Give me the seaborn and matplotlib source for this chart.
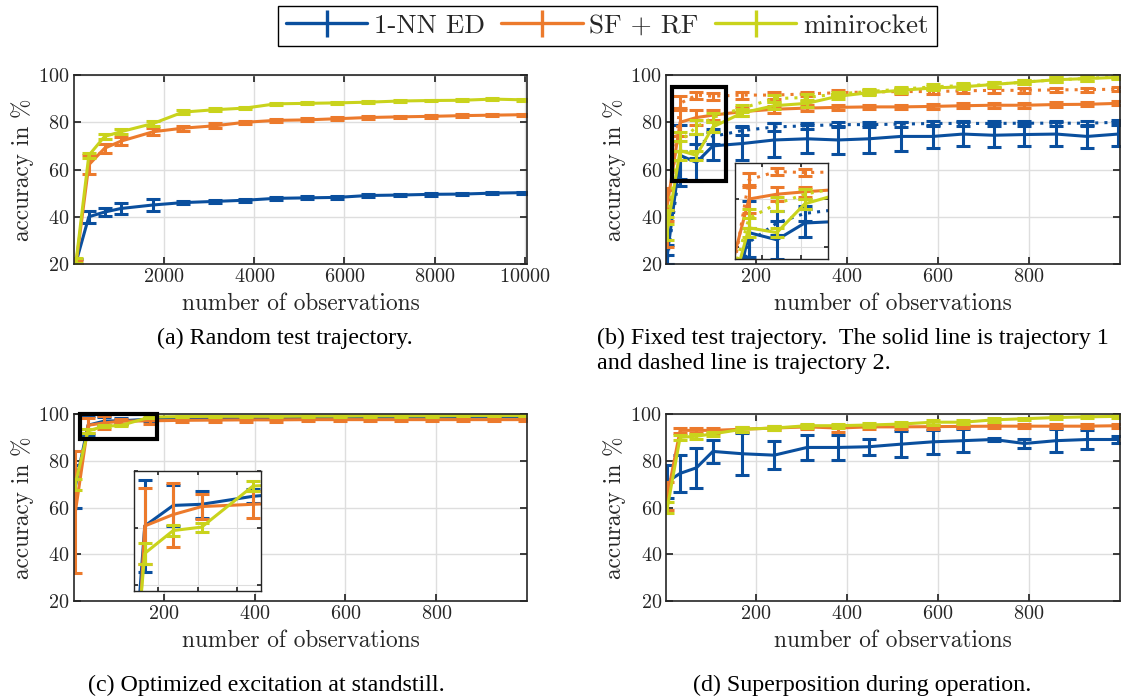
import matplotlib
matplotlib.use("Agg")
import matplotlib.pyplot as plt
import seaborn as sns
from matplotlib.patches import Rectangle

# eje x
obs_a = [50, 330, 680, 1040, 1760, 2420, 3120, 3800, 4480, 5160, 5840, 6520, 7240, 7920, 8600, 9280, 9960]
obs = [5, 33, 69, 105, 170, 240, 312, 380, 448, 518, 588, 655, 722, 790, 860, 928, 996]

metodos = ['1-NN ED', 'SF + RF', 'minirocket']
colores = ['#0a4f9e', '#ec7a2c', '#c9d31c']

# (a) trayectoria aleatoria
a_ed = [21, 40, 42, 43.5, 45, 46, 46.5, 47, 47.8, 48, 48.2, 49, 49.2, 49.5, 49.6, 50, 50.2]
a_ed_err = [1, 2.5, 1.5, 2.5, 2.5, 0.8, 0.8, 0.6, 0.6, 0.6, 0.7, 0.6, 0.5, 0.5, 0.4, 0.4, 0.4]
a_sf = [20.5, 62, 69, 72, 76, 77.5, 78.5, 80, 80.8, 81, 81.5, 82, 82.3, 82.5, 82.8, 83, 83.2]
a_sf_err = [1, 4, 2, 1.8, 1.5, 1, 1, 0.6, 0.6, 0.6, 0.6, 0.5, 0.5, 0.5, 0.5, 0.4, 0.4]
a_mr = [21.5, 66, 74, 76, 79.5, 84.3, 85.3, 86, 87.8, 88, 88.2, 88.5, 89, 89.2, 89.3, 89.8, 89.5]
a_mr_err = [1, 1, 1, 1, 1, 0.8, 0.6, 0.6, 0.5, 0.4, 0.4, 0.4, 0.4, 0.4, 0.4, 0.5, 0.5]

# (b) trayectoria fija: 1 = solida, 2 = punteada
b_ed1 = [24, 66, 63, 70, 71, 72.5, 73, 72.5, 73, 74, 74, 75, 74.5, 74.8, 75, 74, 75]
b_ed1_err = [4, 13, 8, 6, 7, 7, 6, 6, 6, 6, 5, 5, 5, 5, 5, 5, 5]
b_ed2 = [22, 62, 70, 74, 76.5, 78, 78.5, 79, 79, 79.2, 79.5, 79.5, 79.5, 79.6, 79.6, 79.6, 80]
b_ed2_err = [2, 6, 5, 3, 2, 1.5, 1.2, 1, 1, 1, 1, 1, 1, 1, 1, 1, 1]
b_sf1 = [45, 80, 82, 83, 84.5, 85.5, 86, 86.3, 86.5, 86.5, 86.7, 87, 87.2, 87.2, 87.5, 87.6, 88]
b_sf1_err = [7, 6, 3, 2, 2, 1.5, 1.2, 1, 1, 1, 1, 1, 1, 1, 1, 0.8, 0.8]
b_sf2 = [35, 88, 91.5, 91, 91.5, 91.5, 92, 92.5, 92.8, 93, 93, 93.3, 93.5, 93.5, 93.7, 93.8, 94]
b_sf2_err = [8, 3, 1.5, 1.5, 1.5, 1.5, 1, 1, 1, 1, 1, 1, 1, 1, 1, 0.8, 0.8]
b_mr1 = [35, 68, 66, 78, 84, 87, 88, 91, 92.5, 93.5, 94.5, 95, 96, 97, 98, 98.5, 99]
b_mr1_err = [5, 4, 2, 2, 1.5, 1.5, 1.5, 1, 1, 1, 1, 1, 1, 1, 1, 1, 0.8]
b_mr2 = [40, 72, 78, 82, 86, 90, 90.5, 92, 93, 94, 95, 95.5, 96, 97, 98, 98.5, 99.5]
b_mr2_err = [3, 4, 3, 2, 1.5, 1.5, 1.5, 1, 1, 1, 1, 1, 1, 1, 1, 1, 0.8]

# (c) excitacion optimizada
c_ed = [69, 95.2, 97, 97.1, 97.8, 98.2, 98.3, 98.4, 98.5, 98.5, 98.6, 98.6, 98.7, 98.7, 98.7, 98.8, 98.8]
c_ed_err = [9, 4, 1.8, 1.2, 0.6, 0.5, 0.5, 0.5, 0.5, 0.5, 0.5, 0.5, 0.5, 0.5, 0.5, 0.5, 0.5]
c_sf = [58, 95.2, 96.2, 96.9, 97.1, 97.3, 97.4, 97.5, 97.5, 97.6, 97.6, 97.6, 97.6, 97.6, 97.6, 97.6, 97.6]
c_sf_err = [26, 3.3, 2.8, 1.1, 1.2, 0.8, 0.8, 0.8, 0.8, 0.8, 0.8, 0.8, 0.8, 0.8, 0.8, 0.8, 0.8]
c_mr = [70, 92.8, 94.8, 95.1, 98.7, 98.9, 99, 99, 99, 99.1, 99.1, 99.2, 99.2, 99.2, 99.3, 99.3, 99.3]
c_mr_err = [2.3, 0.9, 0.5, 0.4, 0.4, 0.3, 0.3, 0.3, 0.3, 0.3, 0.3, 0.3, 0.3, 0.3, 0.3, 0.3, 0.3]

# (d) superposicion en operacion
d_ed = [71, 74.6, 77, 84, 83, 82.4, 85.7, 85.7, 86, 87.1, 88.1, 88.6, 89.1, 87.4, 88.6, 89.1, 89.1]
d_ed_err = [7, 8, 8.5, 5, 9, 6, 5.5, 5.5, 3.5, 5.5, 5, 5, 0.8, 2, 5, 4, 1.5]
d_sf = [65, 93, 93, 93, 93.5, 94, 94.5, 94, 94.5, 94.5, 94.6, 94.7, 94.8, 94.8, 94.8, 94.8, 95]
d_sf_err = [6, 1, 1, 1, 1, 1, 0.8, 1.5, 0.8, 0.8, 0.8, 0.8, 0.8, 0.8, 0.8, 0.8, 0.8]
d_mr = [60, 90, 90.5, 91.5, 93.5, 94, 95, 95, 95.3, 95.7, 96.5, 96.5, 97.5, 98, 98.5, 98.8, 99]
d_mr_err = [2.5, 1, 1, 1, 1, 0.8, 0.8, 0.8, 0.8, 0.8, 1, 0.8, 0.8, 0.5, 0.5, 0.5, 0.5]

sns.set_theme(style='whitegrid')
plt.rcParams['font.family'] = ['cmr10', 'DejaVu Serif']
plt.rcParams['mathtext.fontset'] = 'cm'
plt.rcParams['axes.formatter.use_mathtext'] = True
plt.rcParams['axes.unicode_minus'] = False

PUNTEADO = (0, (1, 2))


def dibujar(ax, x, y, err, color, ls='-'):
    sns.lineplot(x=x, y=y, color=color, linestyle=ls, lw=2.2, ax=ax,
                 estimator=None, sort=False)
    ax.errorbar(x, y, yerr=err, fmt='none', ecolor=color, elinewidth=2.2,
                capsize=5, capthick=2.2)


def formato(ax, xticks):
    ax.set_ylim(20, 100)
    ax.set_yticks([20, 40, 60, 80, 100])
    ax.set_xticks(xticks)
    ax.grid(True, color='#dedede', lw=1)
    ax.tick_params(direction='in', length=5, top=True, right=True, bottom=True,
                   left=True, color='0.15', labelsize=14.5, pad=3)
    for s in ax.spines.values():
        s.set_color('0.15')
        s.set_linewidth(1.2)
    ax.set_xlabel('number of observations', fontsize=16.8, labelpad=5)
    ax.set_ylabel('accuracy in %', fontsize=16.8, labelpad=3)


def formato_inset(ax, xlim, ylim):
    ax.set_xlim(*xlim)
    ax.set_ylim(*ylim)
    ax.grid(True, color='#dedede', lw=0.8)
    ax.tick_params(direction='in', length=3, top=True, right=True, bottom=True,
                   left=True, color='0.15', labelbottom=False, labelleft=False)
    ax.set_xlabel('')
    ax.set_ylabel('')
    for s in ax.spines.values():
        s.set_color('0.15')
        s.set_linewidth(1)


fig = plt.figure(figsize=(11.29, 6.97), dpi=100)
ax_a = fig.add_axes([0.0655, 0.6212, 0.4013, 0.2712])
ax_b = fig.add_axes([0.5899, 0.6212, 0.4021, 0.2712])
ax_c = fig.add_axes([0.0655, 0.1377, 0.4013, 0.2683])
ax_d = fig.add_axes([0.5899, 0.1377, 0.4021, 0.2683])

# (a)
for y, e, c in zip([a_ed, a_sf, a_mr], [a_ed_err, a_sf_err, a_mr_err], colores):
    dibujar(ax_a, obs_a, y, e, c)
formato(ax_a, [2000, 4000, 6000, 8000, 10000])
ax_a.set_xlim(0, 10050)

# (b)
series_b = [
    (b_ed1, b_ed1_err, colores[0], '-'), (b_ed2, b_ed2_err, colores[0], PUNTEADO),
    (b_sf1, b_sf1_err, colores[1], '-'), (b_sf2, b_sf2_err, colores[1], PUNTEADO),
    (b_mr1, b_mr1_err, colores[2], '-'), (b_mr2, b_mr2_err, colores[2], PUNTEADO),
]
for y, e, c, ls in series_b:
    dibujar(ax_b, obs, y, e, c, ls)
formato(ax_b, [200, 400, 600, 800])
ax_b.set_xlim(2, 1000)
ax_b.add_patch(Rectangle((15, 55), 120, 40, fill=False, ec='black', lw=3, zorder=10))

ins_b = fig.add_axes([0.651, 0.6284, 0.0824, 0.1377])
for y, e, c, ls in series_b:
    dibujar(ins_b, obs, y, e, c, ls)
formato_inset(ins_b, (15, 135), (55, 95))

# (c)
for y, e, c in zip([c_ed, c_sf, c_mr], [c_ed_err, c_sf_err, c_mr_err], colores):
    dibujar(ax_c, obs, y, e, c)
formato(ax_c, [200, 400, 600, 800])
ax_c.set_xlim(2, 1000)
ax_c.add_patch(Rectangle((15, 89.5), 170, 10.5, fill=False, ec='black', lw=3,
                         zorder=10, clip_on=False))

ins_c = fig.add_axes([0.1191, 0.152, 0.112, 0.172])
for y, e, c in zip([c_ed, c_sf, c_mr], [c_ed_err, c_sf_err, c_mr_err], colores):
    dibujar(ins_c, obs, y, e, c)
formato_inset(ins_c, (20, 180), (89.5, 100))

# (d)
for y, e, c in zip([d_ed, d_sf, d_mr], [d_ed_err, d_sf_err, d_mr_err], colores):
    dibujar(ax_d, obs, y, e, c)
formato(ax_d, [200, 400, 600, 800])
ax_d.set_xlim(2, 1000)

# leyenda comun
handles = []
for c in colores:
    h = ax_a.errorbar([], [], yerr=[], color=c, lw=2.4, elinewidth=2.4,
                      capsize=6, capthick=2.4)
    handles.append(h)
leg = fig.legend(handles, metodos, loc='center', bbox_to_anchor=(0.538, 0.963),
                 ncol=3, frameon=True, fancybox=False, framealpha=1,
                 edgecolor='black', handlelength=3.0, columnspacing=0.6,
                 handletextpad=0.25, borderpad=0.3, borderaxespad=0,
                 fontsize=19.5)
leg.get_frame().set_linewidth(1)

# subtitulos
cap = dict(family='Liberation Serif', fontsize=17.3, color='black')
fig.text(0.252, 0.515, '(a) Random test trajectory.', ha='center', va='center', **cap)
fig.text(0.529, 0.515, '(b) Fixed test trajectory.  The solid line is trajectory 1',
         ha='left', va='center', **cap)
fig.text(0.529, 0.479, 'and dashed line is trajectory 2.', ha='left', va='center', **cap)
fig.text(0.236, 0.017, '(c) Optimized excitation at standstill.', ha='center',
         va='center', **cap)
fig.text(0.764, 0.017, '(d) Superposition during operation.', ha='center',
         va='center', **cap)

fig.savefig('out.png', dpi=100)
